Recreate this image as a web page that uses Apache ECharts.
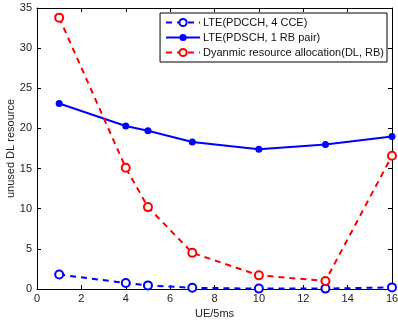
<!DOCTYPE html>
<html><head><meta charset="utf-8">
<script src="https://cdn.jsdelivr.net/npm/echarts@6/dist/echarts.min.js"></script>
<style>html,body{margin:0;padding:0;background:#fff}#c{width:398px;height:321px}</style>
</head><body><div id="c"></div>
<script>
const xs = [1, 4, 5, 7, 10, 13, 16];
const pdcch = [1.8, 0.75, 0.45, 0.15, 0.05, 0.05, 0.2];
const pdsch = [23.1, 20.3, 19.7, 18.3, 17.4, 18.0, 19.0];
const dyn = [33.8, 15.1, 10.2, 4.5, 1.7, 1.0, 16.6];
const names = ['LTE(PDCCH, 4 CCE)', 'LTE(PDSCH, 1 RB pair)', 'Dyanmic resource allocation(DL, RB)'];
const F = 'Liberation Sans, Arial, sans-serif';
const pair = a => xs.map((x, i) => [x, a[i]]);
const chart = echarts.init(document.getElementById('c'));
const axisCommon = {
  axisLine: {show: true, onZero: false, lineStyle: {color: '#000', width: 1}},
  axisTick: {show: true, inside: true, length: 4, lineStyle: {color: '#000'}},
  splitLine: {show: false},
  axisLabel: {color: '#222', fontFamily: F, fontSize: 11}
};
chart.setOption({
  animation: false,
  grid: {left: 37, right: 6, top: 8, bottom: 32, containLabel: false, outerBoundsMode: 'none'},
  xAxis: [Object.assign({type: 'value', min: 0, max: 16, interval: 2, name: 'UE/5ms', nameLocation: 'middle', nameGap: 19, nameMoveOverlap: false,
    nameTextStyle: {fontFamily: F, fontSize: 11, color: '#222'}}, axisCommon, {axisLabel: {color: '#222', fontFamily: F, fontSize: 11, margin: 4}}),
    Object.assign({type: 'value', position: 'top', min: 0, max: 16, interval: 2}, axisCommon, {axisLabel: {show: false}})],
  yAxis: [Object.assign({type: 'value', min: 0, max: 35, interval: 5, name: 'unused DL resource', nameLocation: 'middle', nameGap: 21, nameMoveOverlap: false,
    nameTextStyle: {fontFamily: F, fontSize: 11, color: '#222'}}, axisCommon, {axisLabel: {color: '#222', fontFamily: F, fontSize: 11, margin: 5}}),
    Object.assign({type: 'value', position: 'right', min: 0, max: 35, interval: 5}, axisCommon, {axisLabel: {show: false}})],
  legend: {
    right: 11, top: 13, orient: 'vertical', itemGap: 4, itemWidth: 34, itemHeight: 9,
    backgroundColor: '#fff', borderColor: '#000', borderWidth: 1, padding: [4, 3, 4, 5],
    textStyle: {fontFamily: F, fontSize: 11, color: '#111', padding: [0, 0, 0, -2]},
    data: names
  },
  series: [
    {name: names[0], type: 'line', data: pair(pdcch), symbol: 'emptyCircle', symbolSize: 8,
      lineStyle: {color: '#0000ff', width: 2, type: [6, 5]}, itemStyle: {color: '#0000ff', borderWidth: 2}},
    {name: names[1], type: 'line', data: pair(pdsch), symbol: 'circle', symbolSize: 7,
      lineStyle: {color: '#0000ff', width: 2}, itemStyle: {color: '#0000ff'}},
    {name: names[2], type: 'line', data: pair(dyn), symbol: 'emptyCircle', symbolSize: 8,
      lineStyle: {color: '#ff0000', width: 2, type: [6, 5]}, itemStyle: {color: '#ff0000', borderWidth: 2}}
  ]
});
</script></body></html>
